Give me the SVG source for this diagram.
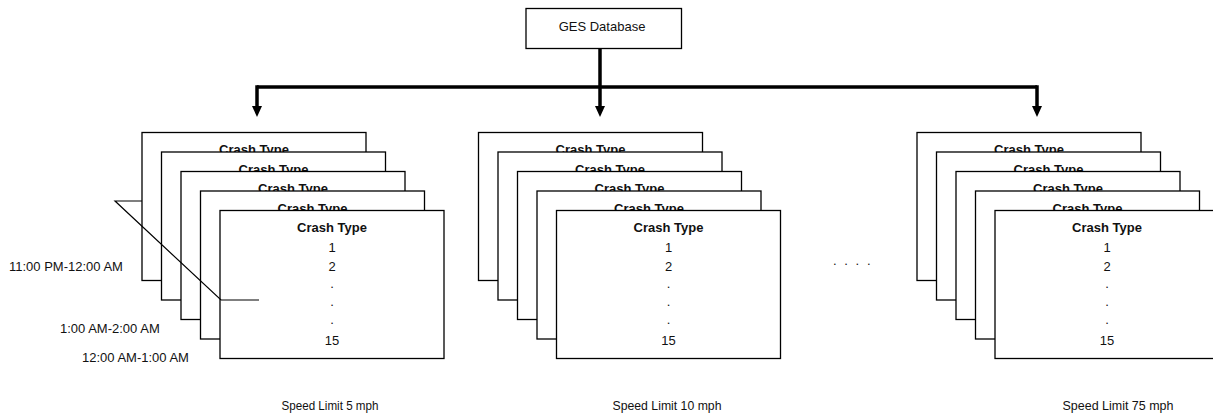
<svg xmlns="http://www.w3.org/2000/svg" width="1213" height="417" viewBox="0 0 1213 417">
<style>
.bg{fill:#fff}
.card{fill:#fff;stroke:#000;stroke-width:1.3}
.t{font-family:"Liberation Sans",Arial,sans-serif;font-size:13px;fill:#111}
.b{font-weight:bold;text-anchor:middle}
.m{text-anchor:middle}
.conn{fill:none;stroke:#000;stroke-width:3.5;stroke-linejoin:miter}
.thin{fill:none;stroke:#000;stroke-width:1.2}
</style>
<defs>
<marker id="ah" viewBox="0 0 11 10" refX="0" refY="5" markerWidth="11" markerHeight="10" markerUnits="userSpaceOnUse" orient="auto">
<path d="M0,0 L11,5 L0,10 z" fill="#000"/>
</marker>
</defs>
<rect class="bg" x="0" y="0" width="1213" height="417"/>

<g id="ges-database">
<rect class="card" x="526" y="8.5" width="155.5" height="40"/>
<text class="t m" x="602" y="31">GES Database</text>
</g>

<g id="connectors">
<path class="conn" d="M600,48.5 V106" marker-end="url(#ah)"/>
<path class="conn" d="M257,87 H1037"/>
<path class="conn" d="M257,85.25 V106" marker-end="url(#ah)"/>
<path class="conn" d="M1037,85.25 V106" marker-end="url(#ah)"/>
</g>

<!-- Stack 1: Speed Limit 5 mph -->
<g id="stack-5mph">
<g id="s5-card1"><rect class="card" x="142" y="132.5" width="224" height="148"/><text class="t b" x="254" y="154">Crash Type</text></g>
<g id="s5-card2"><rect class="card" x="161.5" y="152" width="224" height="148"/><text class="t b" x="273.5" y="173.5">Crash Type</text></g>
<g id="s5-card3"><rect class="card" x="181" y="171.5" width="224" height="148"/><text class="t b" x="293" y="193">Crash Type</text></g>
<g id="s5-card4"><rect class="card" x="200.5" y="191" width="224" height="148"/><text class="t b" x="312.5" y="212.5">Crash Type</text></g>
<g id="s5-card5"><rect class="card" x="220" y="210.5" width="224" height="148"/>
<text class="t b" x="332" y="232">Crash Type</text>
<text class="t m" x="332" y="252">1</text>
<text class="t m" x="332" y="270.5">2</text>
<text class="t m" x="332" y="288">.</text>
<text class="t m" x="332" y="305.5">.</text>
<text class="t m" x="332" y="323.5">.</text>
<text class="t m" x="332" y="345">15</text>
</g>
</g>

<g id="time-bracket">
<polyline class="thin" points="142,201 115,201 221,300 259,300"/>
</g>
<g id="time-labels">
<text class="t" x="9" y="270.5">11:00 PM-12:00 AM</text>
<text class="t" x="60" y="332.5">1:00 AM-2:00 AM</text>
<text class="t" x="82" y="361.5">12:00 AM-1:00 AM</text>
</g>

<!-- Stack 2: Speed Limit 10 mph -->
<g id="stack-10mph">
<g id="s10-card1"><rect class="card" x="478.5" y="132.5" width="224" height="148"/><text class="t b" x="590.5" y="154">Crash Type</text></g>
<g id="s10-card2"><rect class="card" x="498" y="152" width="224" height="148"/><text class="t b" x="610" y="173.5">Crash Type</text></g>
<g id="s10-card3"><rect class="card" x="517.5" y="171.5" width="224" height="148"/><text class="t b" x="629.5" y="193">Crash Type</text></g>
<g id="s10-card4"><rect class="card" x="537" y="191" width="224" height="148"/><text class="t b" x="649" y="212.5">Crash Type</text></g>
<g id="s10-card5"><rect class="card" x="556.5" y="210.5" width="224" height="148"/>
<text class="t b" x="668.5" y="232">Crash Type</text>
<text class="t m" x="668.5" y="252">1</text>
<text class="t m" x="668.5" y="270.5">2</text>
<text class="t m" x="668.5" y="288">.</text>
<text class="t m" x="668.5" y="305.5">.</text>
<text class="t m" x="668.5" y="323.5">.</text>
<text class="t m" x="668.5" y="345">15</text>
</g>
</g>

<g id="ellipsis">
<text class="t" x="833" y="265" letter-spacing="7.7">....</text>
</g>

<!-- Stack 3: Speed Limit 75 mph -->
<g id="stack-75mph">
<g id="s75-card1"><rect class="card" x="917" y="132.5" width="224" height="148"/><text class="t b" x="1029" y="154">Crash Type</text></g>
<g id="s75-card2"><rect class="card" x="936.5" y="152" width="224" height="148"/><text class="t b" x="1048.5" y="173.5">Crash Type</text></g>
<g id="s75-card3"><rect class="card" x="956" y="171.5" width="224" height="148"/><text class="t b" x="1068" y="193">Crash Type</text></g>
<g id="s75-card4"><rect class="card" x="975.5" y="191" width="224" height="148"/><text class="t b" x="1087.5" y="212.5">Crash Type</text></g>
<g id="s75-card5"><rect class="card" x="995" y="210.5" width="224" height="148"/>
<text class="t b" x="1107" y="232">Crash Type</text>
<text class="t m" x="1107" y="252">1</text>
<text class="t m" x="1107" y="270.5">2</text>
<text class="t m" x="1107" y="288">.</text>
<text class="t m" x="1107" y="305.5">.</text>
<text class="t m" x="1107" y="323.5">.</text>
<text class="t m" x="1107" y="345">15</text>
</g>
</g>

<g id="speed-labels">
<text class="t m" x="330" y="410" textLength="97" lengthAdjust="spacingAndGlyphs">Speed Limit 5 mph</text>
<text class="t m" x="667" y="410" textLength="109" lengthAdjust="spacingAndGlyphs">Speed Limit 10 mph</text>
<text class="t m" x="1118" y="410" textLength="111" lengthAdjust="spacingAndGlyphs">Speed Limit 75 mph</text>
</g>
</svg>
